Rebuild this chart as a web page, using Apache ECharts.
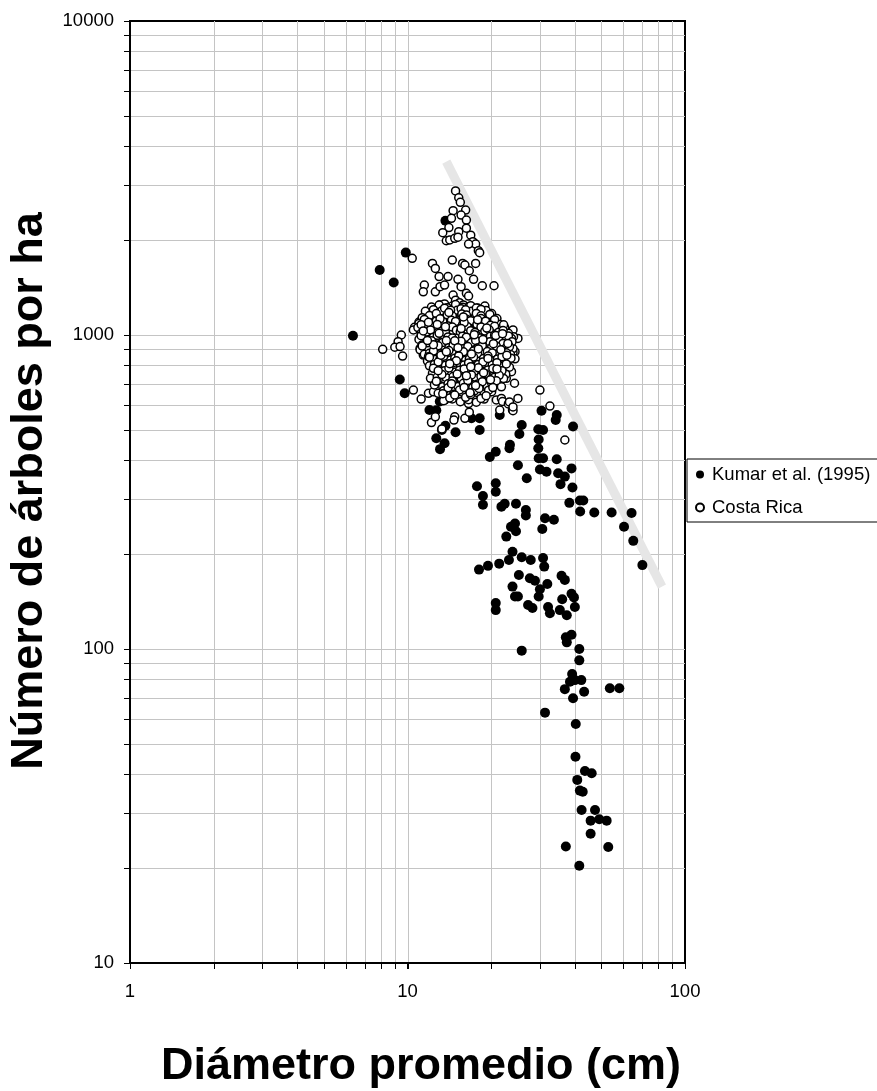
<!DOCTYPE html>
<html>
<head>
<meta charset="utf-8">
<script src="https://cdn.jsdelivr.net/npm/echarts@6/dist/echarts.min.js"></script>
<style>html,body{margin:0;padding:0;background:#fff}#c{width:877px;height:1091px}</style>
</head>
<body>
<div id="c"></div>
<script>
// ---- DATA ----
const xTitle = 'Diámetro promedio (cm)';
const yTitle = 'Número de árboles por ha';
const seriesNames = ['Kumar et al. (1995)', 'Costa Rica'];
const xTickLabels = [1, 10, 100];
const yTickLabels = [10, 100, 1000, 10000];
const xGridValues = [2,3,4,5,6,7,8,9,10,20,30,40,50,60,70,80,90];
const yGridValues = [20,30,40,50,60,70,80,90,100,200,300,400,500,600,700,800,900,1000,2000,3000,4000,5000,6000,7000,8000,9000];
const trendD = [13.8, 82.6];
const trendN = [3565, 158];

const kumarD = [13.7,9.86,7.94,8.92,6.36,9.38,9.77,13.07,13.6,12.0,12.7,13.7,13.3,12.7,13.6,13.1,14.9,17.0,18.2,18.2,
21.5,25.8,25.3,23.4,23.3,20.8,19.8,25.0,26.9,30.4,34.5,34.2,39.5,29.6,30.8,29.7,29.6,29.7,30.8,34.5,
30.0,31.7,34.9,36.9,39.0,35.6,39.3,17.8,20.8,20.8,18.7,18.7,21.8,22.4,24.6,26.7,26.7,38.3,41.8,43.0,
41.9,47.1,54.4,64.2,60.3,65.1,70.2,31.3,33.7,30.6,23.6,24.4,22.7,24.6,23.9,23.2,25.8,27.8,30.8,31.1,
18.1,19.5,21.4,25.2,27.6,28.8,30.0,31.9,23.9,24.4,25.0,35.9,36.9,39.0,39.8,36.1,27.2,28.2,29.7,32.1,
35.4,37.5,40.1,20.8,20.8,32.6,37.2,39.0,37.5,25.8,41.6,41.6,39.2,38.5,40.1,42.3,36.9,39.5,43.3,53.6,
58.0,31.3,40.4,40.3,43.6,46.1,40.9,41.8,42.8,42.4,47.4,45.7,49.1,52.2,45.7,37.2,52.9,41.6];
const kumarN = [2310,1830,1610,1470,995,722,652,614,621,577,576,514,498,469,452,433,490,543,543,498,
556,517,484,447,436,425,409,385,350,574,556,536,511,501,498,465,436,405,405,402,
373,367,363,354,376,335,327,330,337,317,307,288,284,290,290,277,266,292,297,297,
274,272,272,271,245,221,185,261,258,241,245,251,228,237,204,192,196,192,195,183,
179,184,187,172,168,165,155,161,158,147,147,171,166,150,146,144,138,135,147,136,
133,128,136,140,133,130,109,111,105,98.8,100,92,83.2,78.7,79.6,79.6,74.5,69.7,73.1,75,
75,62.7,57.7,45.4,40.9,40.2,38.3,35.4,35.1,30.7,30.7,28.4,28.7,28.4,25.8,23.5,23.4,20.4];

const costaD = [
14.9,15.3,15.5,14.6,16.2,15.6,14.4,16.3,14.1,15.3,16.3,13.4,13.8,14.2,14.8,15.2,16.9,17.2,17.6,16.6,
18.0,18.2,10.4,14.5,12.3,12.6,15.8,16.1,17.6,16.7,13.0,14.0,15.2,17.3,20.5,18.6,11.5,11.4,12.6,13.1,
13.6,15.6,16.3,14.6,14.9,15.4,16.6,13.1,13.6,14.5,15.9,16.6,12.1,12.7,13.3,10.6,9.5,9.25,8.14,11.0,
11.5,14.2,14.9,16.3,17.2,18.4,19.7,20.3,20.9,24.0,25.0,16.7,17.7,9.0,9.4,9.6,10.5,11.1,11.4,10.5,
11.2,11.9,12.4,12.2,12.6,13.3,14.8,14.7,16.1,16.6,17.3,20.9,21.8,22.0,23.1,21.5,23.9,25.0,23.7,24.3,
24.4,24.1,22.7,30.0,32.6,36.9,24.0,23.0,24.0,24.4,23.3,24.0,16.7,
12.2,13.0,13.9,14.9,15.8,16.9,17.9,19.0,
11.6,12.4,13.3,14.2,15.1,16.0,17.0,18.1,19.2,20.1,
11.3,12.1,12.9,13.8,14.7,15.6,16.6,17.6,18.7,19.8,21.0,
11.0,11.8,12.6,13.4,14.3,15.2,16.1,17.1,18.1,19.2,20.3,21.5,
10.9,11.6,12.4,13.2,14.0,14.9,15.8,16.8,17.8,18.9,20.0,21.2,22.4,
11.2,12.0,12.8,13.6,14.5,15.4,16.3,17.3,18.4,19.5,20.7,21.9,23.1,
11.0,11.7,12.5,13.3,14.1,15.0,15.9,16.9,17.9,19.0,20.1,21.3,22.5,23.7,
11.3,12.1,12.9,13.7,14.6,15.5,16.5,17.5,18.6,19.7,20.9,22.1,23.3,
11.1,11.9,12.7,13.5,14.3,15.2,16.1,17.1,18.1,19.2,20.4,21.6,22.8,24.0,
11.5,12.3,13.1,13.9,14.8,15.7,16.7,17.7,18.8,19.9,21.1,22.3,23.5,
11.8,12.6,13.4,14.3,15.2,16.2,17.2,18.3,19.4,20.5,21.7,23.0,
12.0,12.8,13.7,14.6,15.5,16.5,17.5,18.6,19.7,20.9,22.1,23.3,
12.3,13.1,14.0,14.9,15.9,16.9,17.9,19.0,20.1,21.3,22.6,
12.1,12.9,13.8,14.7,15.6,16.6,17.6,18.7,19.8,21.0,22.2,
12.5,13.4,14.3,15.2,16.2,17.2,18.3,19.4,20.6,21.8,
12.9,13.8,14.7,15.7,16.7,17.8,18.9,20.1,
13.5,14.5,15.5,16.6,17.7,18.9,
12.4,13.6,14.3,15.6,16.2,17.7,18.4,
12.0,12.7,13.9,14.5,15.7,16.3,17.7,18.4,19.8,
11.5,12.7,13.1,14.4,14.9,16.3,16.9,18.4,19.1,20.6,
11.2,12.3,12.8,14.0,14.5,15.8,16.4,17.8,18.4,19.9,20.6,22.2,
11.7,12.1,13.3,13.7,15.0,15.5,16.9,17.5,19.0,19.7,21.3,22.1,
11.2,12.4,12.8,14.0,14.5,15.8,16.3,17.7,18.3,19.9,20.6,22.3,23.1,
11.8,12.2,13.4,13.8,15.1,15.6,17.0,17.6,19.1,19.8,21.4,22.1,23.8,
11.3,12.5,12.9,14.1,14.6,15.9,16.5,17.9,18.6,20.1,20.9,22.5,23.3,
12.0,12.4,13.6,14.1,15.4,15.9,17.3,17.9,19.4,20.2,21.8,22.7,
11.9,13.1,13.5,14.8,15.3,16.7,17.3,18.8,19.5,21.1,21.9,23.6,
12.5,12.9,14.2,14.7,16.0,16.6,18.0,18.7,20.2,21.0,22.7,
12.4,13.6,14.1,15.4,16.0,17.4,18.0,19.5,20.3,21.9,
12.8,13.3,14.6,15.1,16.4,17.0,18.4,19.1,20.6,21.4,
12.7,14.0,14.5,15.9,16.5,17.9,18.6,20.1,20.9,
13.5,14.0,15.4,16.0,17.4,18.1,19.6,20.3,
14.2,14.8,16.2,16.9,18.4,19.2,
11.9,13.0,14.8,16.0,17.4,18.7,20.4,21.7,13.2,15.0,16.9,18.8,14.1,15.9,17.9,12.4,13.8,19.5,22.8,21.0,
16.3,14.4,17.6,12.9,15.6,19.3,20.8,12.0,23.0,22.0,13.7,17.0,18.0,15.2,14.2,19.9,16.8,13.4,11.4,11.8];
const costaN = [
2877,2736,2646,2488,2500,2410,2353,2323,2198,2133,2188,2118,1996,2007,2032,2048,2080,1982,1948,1948,
1856,1829,1754,1733,1690,1629,1690,1671,1690,1602,1535,1535,1504,1504,1435,1435,1442,1373,1373,1425,
1442,1425,1358,1340,1291,1267,1330,1247,1256,1237,1247,1230,1158,1172,1150,1058,1000,952,900,1100,
1129,1117,1111,1172,1143,1172,1143,1089,1117,1038,975,1089,1089,914,919,857,1038,907,863,668,
625,652,659,526,549,502,549,536,543,605,628,621,628,614,603,577,577,628,764,702,
885,988,728,668,594,463,574,960,880,840,612,590,568,
1228,1245,1222,1250,1226,1240,1218,1236,
1190,1176,1195,1180,1198,1172,1190,1178,1196,1170,
1135,1148,1128,1142,1131,1150,1126,1145,1133,1150,1128,
1088,1102,1090,1105,1086,1099,1083,1104,1092,1086,1102,1080,
1056,1044,1058,1041,1054,1046,1060,1040,1052,1046,1057,1042,1055,
1012,1004,1018,1002,1014,1000,1016,1005,1013,1001,1015,1004,1012,
968,978,962,975,965,979,961,972,964,977,960,973,966,975,
930,940,926,938,929,944,925,937,930,942,927,939,931,
897,905,892,907,894,903,889,906,895,904,890,901,894,905,
868,858,872,860,870,856,866,854,871,859,868,856,866,
826,836,822,833,820,831,824,838,821,832,825,834,
798,788,801,790,803,786,797,791,802,787,796,790,
755,765,752,763,749,760,751,766,754,762,750,
728,720,731,717,729,719,733,722,730,716,727,
693,684,697,686,695,681,692,686,697,684,
652,661,648,658,645,656,649,660,
618,626,613,622,611,625,
1204,1217,1199,1212,1203,1219,1206,
1153,1170,1160,1149,1166,1157,1171,1151,1163,
1121,1109,1126,1114,1105,1123,1111,1128,1107,1119,
1079,1063,1081,1069,1060,1077,1065,1082,1061,1074,1066,1078,
1022,1038,1027,1019,1036,1024,1032,1018,1029,1039,1021,1033,
995,983,998,986,978,992,984,997,979,990,999,981,993,
944,958,947,960,941,955,946,961,943,952,959,940,951,
922,906,924,911,926,904,919,909,925,912,921,905,918,
874,889,877,892,871,884,890,873,886,876,891,878,
853,840,856,843,858,838,851,842,857,839,852,844,
805,820,808,818,802,815,806,821,803,816,809,
783,770,785,772,780,767,786,774,782,769,
735,749,737,751,732,746,738,752,733,744,
712,699,714,702,716,698,710,703,715,
665,679,668,681,663,676,667,680,
630,644,633,646,628,641,
1098,1012,958,1095,1001,967,938,898,862,828,793,758,1180,1142,1118,931,884,842,862,780,
742,700,690,770,1048,1052,996,850,940,1010,1062,870,903,910,810,720,655,650,1030,960];

// ---- BUILD ----
const FONT = '"Liberation Sans", Arial, Helvetica, sans-serif';
const X_MIN = 1, X_MAX = 100, Y_MIN = 10, Y_MAX = 10000;
const zip = (a, b) => a.map((v, i) => [v, b[i]]);
const GRID_COLOR = '#c4c4c4';

function renderXGrid(params, api) {
  const v = api.value(0);
  const pb = api.coord([v, Y_MIN]);
  const pt = api.coord([v, Y_MAX]);
  const x = Math.round(pb[0]) + 0.5;
  return { type: 'group', children: [
    { type: 'line', shape: { x1: x, y1: pt[1], x2: x, y2: pb[1] }, style: { stroke: GRID_COLOR, lineWidth: 1 } },
    { type: 'line', shape: { x1: x, y1: pb[1], x2: x, y2: pb[1] + 6 }, style: { stroke: '#000', lineWidth: 1 } }
  ]};
}
function renderYGrid(params, api) {
  const v = api.value(1);
  const pl = api.coord([X_MIN, v]);
  const pr = api.coord([X_MAX, v]);
  const y = Math.round(pl[1]) + 0.5;
  return { type: 'group', children: [
    { type: 'line', shape: { x1: pl[0], y1: y, x2: pr[0], y2: y }, style: { stroke: GRID_COLOR, lineWidth: 1 } },
    { type: 'line', shape: { x1: pl[0] - 6, y1: y, x2: pl[0], y2: y }, style: { stroke: '#000', lineWidth: 1 } }
  ]};
}

const chart = echarts.init(document.getElementById('c'), null, { renderer: 'canvas' });
chart.setOption({
  animation: false,
  backgroundColor: '#fff',
  textStyle: { fontFamily: FONT },
  grid: { left: 130, top: 21, width: 555, height: 942, show: true, borderColor: '#000', borderWidth: 2,
          backgroundColor: 'transparent', containLabel: false, outerBoundsMode: 'none' },
  xAxis: {
    type: 'log', logBase: 10, min: X_MIN, max: X_MAX,
    axisLine: { show: true, lineStyle: { color: '#000', width: 2 } },
    axisTick: { show: true, length: 6, lineStyle: { color: '#000', width: 1 } },
    splitLine: { show: false },
    axisLabel: { color: '#000', fontSize: 18.5, fontFamily: FONT, margin: 19,
      formatter: v => { const m = xTickLabels.find(t => Math.abs(t - v) < 1e-6); return m !== undefined ? String(m) : ''; } }
  },
  yAxis: {
    type: 'log', logBase: 10, min: Y_MIN, max: Y_MAX,
    axisLine: { show: true, lineStyle: { color: '#000', width: 2 } },
    axisTick: { show: true, length: 6, lineStyle: { color: '#000', width: 1 } },
    splitLine: { show: false },
    axisLabel: { color: '#000', fontSize: 18.5, fontFamily: FONT, margin: 16,
      formatter: v => { const m = yTickLabels.find(t => Math.abs(t - v) < 1e-6 * t); return m !== undefined ? String(m) : ''; } }
  },
  legend: {
    orient: 'vertical', left: 687, top: 459,
    backgroundColor: '#fff', borderColor: '#000', borderWidth: 1,
    padding: [6, 16, 5, 8], itemGap: 14, itemWidth: 14, itemHeight: 8,
    textStyle: { fontSize: 18.5, color: '#000', fontFamily: FONT },
    data: [{ name: seriesNames[0], icon: 'circle' }, { name: seriesNames[1], icon: 'circle' }]
  },
  graphic: [
    { type: 'text', x: 421, y: 1067, style: { text: xTitle, font: 'bold 45px ' + FONT, fill: '#000', textAlign: 'center', textVerticalAlign: 'middle' } },
    { type: 'text', x: 30, y: 491, rotation: Math.PI / 2, style: { text: yTitle, font: 'bold 45px ' + FONT, fill: '#000', textAlign: 'center', textVerticalAlign: 'middle' } }
  ],
  series: [
    { type: 'custom', name: 'xgrid', silent: true, z: 0, clip: false, renderItem: renderXGrid,
      encode: { x: 0, y: 1 }, data: xGridValues.map(v => [v, Y_MIN]) },
    { type: 'custom', name: 'ygrid', silent: true, z: 0, clip: false, renderItem: renderYGrid,
      encode: { x: 0, y: 1 }, data: yGridValues.map(v => [X_MIN, v]) },
    { type: 'line', name: 'trend', silent: true, z: 1, symbol: 'none',
      lineStyle: { color: '#e6e6e6', width: 9, cap: 'butt' }, data: zip(trendD, trendN) },
    { type: 'scatter', name: seriesNames[0], z: 3, symbol: 'circle', symbolSize: 10,
      itemStyle: { color: '#000', opacity: 1 }, data: zip(kumarD, kumarN) },
    { type: 'scatter', name: seriesNames[1], z: 4, symbol: 'circle', symbolSize: 8,
      itemStyle: { color: '#fff', borderColor: '#000', borderWidth: 1.5, opacity: 1 }, data: zip(costaD, costaN) }
  ]
});
</script>
</body>
</html>
